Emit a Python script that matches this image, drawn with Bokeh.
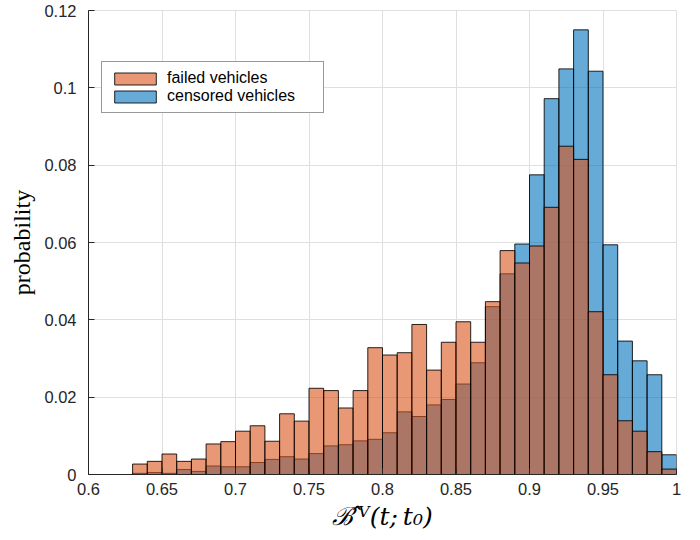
from bokeh.plotting import figure
from bokeh.models import Range1d, FixedTicker, Legend, LegendItem, ColumnDataSource
from bokeh.embed import file_html
from bokeh.resources import INLINE

# ---- data -------------------------------------------------------------
bin_left = [0.63, 0.64, 0.65, 0.66, 0.67, 0.68, 0.69, 0.70, 0.71, 0.72,
            0.73, 0.74, 0.75, 0.76, 0.77, 0.78, 0.79, 0.80, 0.81, 0.82,
            0.83, 0.84, 0.85, 0.86, 0.87, 0.88, 0.89, 0.90, 0.91, 0.92,
            0.93, 0.94, 0.95, 0.96, 0.97, 0.98, 0.99]
bin_right = [0.64, 0.65, 0.66, 0.67, 0.68, 0.69, 0.70, 0.71, 0.72, 0.73,
             0.74, 0.75, 0.76, 0.77, 0.78, 0.79, 0.80, 0.81, 0.82, 0.83,
             0.84, 0.85, 0.86, 0.87, 0.88, 0.89, 0.90, 0.91, 0.92, 0.93,
             0.94, 0.95, 0.96, 0.97, 0.98, 0.99, 1.00]
failed = [0.0027, 0.0034, 0.0053, 0.0034, 0.0040, 0.0079, 0.0085, 0.0112, 0.0126, 0.0086,
          0.0157, 0.0138, 0.0223, 0.0217, 0.0172, 0.0217, 0.0328, 0.0309, 0.0315, 0.0388,
          0.0270, 0.0342, 0.0395, 0.0342, 0.0447, 0.0579, 0.0547, 0.0591, 0.0691, 0.0849,
          0.0815, 0.0421, 0.0258, 0.0139, 0.0112, 0.0059, 0.0014]
censored = [0.0003, 0.0005, 0.0003, 0.0013, 0.0008, 0.0022, 0.0020, 0.0020, 0.0031, 0.0039,
            0.0046, 0.0040, 0.0054, 0.0074, 0.0077, 0.0087, 0.0091, 0.0108, 0.0162, 0.0150,
            0.0180, 0.0194, 0.0234, 0.0289, 0.0434, 0.0519, 0.0596, 0.0775, 0.0972, 0.1049,
            0.1150, 0.1043, 0.0594, 0.0345, 0.0294, 0.0258, 0.0051]
x_ticks = [0.6, 0.65, 0.7, 0.75, 0.8, 0.85, 0.9, 0.95, 1.0]
x_tick_labels = ["0.6", "0.65", "0.7", "0.75", "0.8", "0.85", "0.9", "0.95", "1"]
y_ticks = [0.0, 0.02, 0.04, 0.06, 0.08, 0.1, 0.12]
y_tick_labels = ["0", "0.02", "0.04", "0.06", "0.08", "0.1", "0.12"]
series_names = ["failed vehicles", "censored vehicles"]
x_title = "\u212C\u0302\u2009\u2C7D(t;\u2009t\u2080)"
y_title = "probability"

src = ColumnDataSource(dict(left=bin_left, right=bin_right, failed=failed, censored=censored))

p = figure(width=700, height=540, output_backend="svg", toolbar_location=None,
           x_range=Range1d(0.6, 1.0), y_range=Range1d(0, 0.12),
           min_border_left=88, min_border_right=24, min_border_top=10, min_border_bottom=66)
p.background_fill_color = "white"
p.border_fill_color = "white"
p.outline_line_color = "#dfdfdf"

BLUE = "#0072BD"
ORANGE = "#D95319"
r_c = p.quad(left="left", right="right", bottom=0, top="censored", source=src,
             fill_color=BLUE, fill_alpha=0.6, line_color="black", line_width=1, line_alpha=0.85)
r_f = p.quad(left="left", right="right", bottom=0, top="failed", source=src,
             fill_color=ORANGE, fill_alpha=0.6, line_color="black", line_width=1, line_alpha=0.85)

# axes
for ax, ticks, labels in ((p.xaxis[0], x_ticks, x_tick_labels), (p.yaxis[0], y_ticks, y_tick_labels)):
    ax.ticker = FixedTicker(ticks=ticks)
    ax.major_label_overrides = {t: l for t, l in zip(ticks, labels)}
    ax.axis_line_color = "#262626"
    ax.major_tick_line_color = "#262626"
    ax.major_tick_in = 6
    ax.major_tick_out = 0
    ax.minor_tick_line_color = None
    ax.major_label_text_font = "Liberation Sans"
    ax.major_label_text_font_size = "16.5px"
    ax.major_label_text_color = "#262626"
    ax.axis_label_text_color = "black"

p.yaxis.major_label_standoff = 12
p.xaxis.major_label_standoff = 8

p.xgrid.ticker = FixedTicker(ticks=x_ticks)
p.ygrid.ticker = FixedTicker(ticks=y_ticks)
p.grid.grid_line_color = "#dfdfdf"

p.yaxis.axis_label = y_title
p.yaxis.axis_label_text_font = "Liberation Serif"
p.yaxis.axis_label_text_font_style = "normal"
p.yaxis.axis_label_text_font_size = "24px"
p.yaxis.axis_label_standoff = 6

p.xaxis.axis_label = x_title
p.xaxis.axis_label_text_font = "DejaVu Serif"
p.xaxis.axis_label_text_font_style = "italic"
p.xaxis.axis_label_text_font_size = "25px"
p.xaxis.axis_label_standoff = 4

legend = Legend(items=[LegendItem(label=series_names[0], renderers=[r_f]),
                       LegendItem(label=series_names[1], renderers=[r_c])],
                location=(13, 361), glyph_width=52, glyph_height=15, label_height=15,
                spacing=0, padding=7, margin=0, label_standoff=6, label_width=149,
                label_text_font="Liberation Sans", label_text_font_size="16px",
                label_text_color="black", border_line_color="#333333",
                background_fill_color="white", background_fill_alpha=1)
p.add_layout(legend, "center")

open("out.html", "w").write(file_html(p, INLINE))
